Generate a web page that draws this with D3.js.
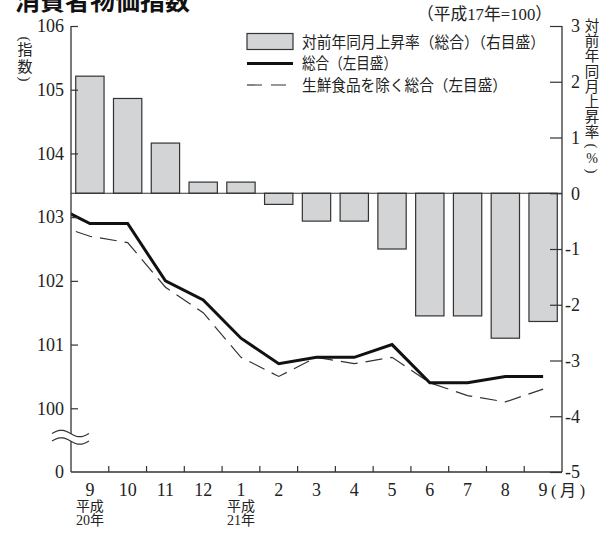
<!DOCTYPE html>
<html><head><meta charset="utf-8">
<script src="https://cdn.jsdelivr.net/npm/d3@7"></script>
<style>
html,body{margin:0;padding:0;background:#fff;}
svg{display:block;}
</style>
</head><body>
<svg id="c" width="613" height="534"></svg>
<script>
// ---- data ----
const months = ["9","10","11","12","1","2","3","4","5","6","7","8","9"];
const yearIdx = [0, 4];
const yearLine1 = ["平成", "平成"];
const yearLine2 = ["20年", "21年"];
const rateValues = [2.1, 1.7, 0.9, 0.2, 0.2, -0.2, -0.5, -0.5, -1.0, -2.2, -2.2, -2.6, -2.3];
const totalIndex = [102.9, 102.9, 102.0, 101.7, 101.1, 100.7, 100.8, 100.8, 101.0, 100.4, 100.4, 100.5, 100.5];
const coreIndex  = [102.7, 102.6, 101.9, 101.5, 100.8, 100.5, 100.8, 100.7, 100.8, 100.4, 100.2, 100.1, 100.3];
const prevTotal = 103.2;   // previous month (clipped at the axis)
const prevCore = 102.9;
const leftTicks = [100, 101, 102, 103, 104, 105, 106];
const rightTicks = [-5, -4, -3, -2, -1, 0, 1, 2, 3];
const legendLabels = ["対前年同月上昇率（総合）（右目盛）", "総合（左目盛）", "生鮮食品を除く総合（左目盛）"];
const baseLabel = "（平成17年=100）";
const title = "消費者物価指数";
const leftTitle = ["指", "数"];
const rightTitle = ["対","前","年","同","月","上","昇","率"];

// ---- layout ----
const L = 71, R = 562, T = 26, B = 472;
const SERIF = "'Liberation Serif','Noto Sans CJK JP',serif";
const CJK = "'Liberation Serif','Noto Sans CJK JP',sans-serif";
const ink = "#222";

const svg = d3.select("#c");

const x = d3.scaleBand().domain(d3.range(months.length)).range([L, R]).paddingInner(0.25).paddingOuter(0.125);
const yL = d3.scaleLinear().domain([99, 106]).range([B, T]);
const yR = d3.scaleLinear().domain([-5, 3]).range([B, T]);
const xc = i => i < 0 ? x(0) + x.bandwidth() / 2 + i * x.step() : x(i) + x.bandwidth() / 2;

// title
svg.append("text").attr("x", 15).attr("y", 10)
  .attr("font-family", "'Noto Sans CJK JP',sans-serif").attr("font-weight", 700)
  .attr("font-size", 25).attr("fill", "#111").text(title);

// bars
svg.append("g").selectAll("rect").data(rateValues).join("rect")
  .attr("x", (d, i) => x(i))
  .attr("width", x.bandwidth())
  .attr("y", d => yR(Math.max(0, d)))
  .attr("height", d => Math.abs(yR(d) - yR(0)))
  .attr("fill", "#d3d4d6").attr("stroke", "#333").attr("stroke-width", 1.2);

// zero line
svg.append("line").attr("x1", L).attr("x2", R).attr("y1", yR(0)).attr("y2", yR(0))
  .attr("stroke", "#333").attr("stroke-width", 1.2);

// clip for lines
svg.append("clipPath").attr("id", "plotclip").append("rect")
  .attr("x", L).attr("y", T).attr("width", R - L).attr("height", B - T);

const line = d3.line().x(d => xc(d.i)).y(d => yL(d.v));
const totalPts = [{i: -1, v: prevTotal}].concat(totalIndex.map((v, i) => ({i, v})));
const corePts = [{i: -1, v: prevCore}].concat(coreIndex.map((v, i) => ({i, v})));

svg.append("path").datum(corePts).attr("d", line).attr("clip-path", "url(#plotclip)")
  .attr("fill", "none").attr("stroke", "#333").attr("stroke-width", 1.2)
  .attr("stroke-dasharray", "17,8");
svg.append("path").datum(totalPts).attr("d", line).attr("clip-path", "url(#plotclip)")
  .attr("fill", "none").attr("stroke", "#111").attr("stroke-width", 3)
  .attr("stroke-linejoin", "miter");

// left axis
const gL = svg.append("g").attr("transform", `translate(${L},0)`)
  .call(d3.axisLeft(yL).tickValues(leftTicks).tickSize(-7).tickSizeOuter(0).tickPadding(7).tickFormat(d => String(d)));
gL.select(".domain").remove();
gL.append("line").attr("x1", 0).attr("x2", 0).attr("y1", T).attr("y2", B).attr("stroke", "#333").attr("stroke-width", 1.3);
gL.selectAll(".tick line").attr("stroke", "#333").attr("stroke-width", 1.2);
gL.selectAll(".tick text").attr("font-family", SERIF).attr("font-size", 18).attr("fill", ink);
// "0" at the broken base
gL.append("text").attr("x", -7).attr("y", B).attr("dy", "0.32em").attr("text-anchor", "end")
  .attr("font-family", SERIF).attr("font-size", 18).attr("fill", ink).text("0");

// right axis
const gR = svg.append("g").attr("transform", `translate(${R},0)`)
  .call(d3.axisRight(yR).tickValues(rightTicks).tickSize(-12).tickSizeOuter(0).tickPadding(18).tickFormat(d => String(d)));
gR.select(".domain").remove();
gR.append("line").attr("x1", 0).attr("x2", 0).attr("y1", T).attr("y2", B).attr("stroke", "#333").attr("stroke-width", 1.3);
gR.selectAll(".tick line").attr("stroke", "#333").attr("stroke-width", 1.2);
gR.selectAll(".tick text").attr("font-family", SERIF).attr("font-size", 18).attr("fill", ink).attr("text-anchor", "end");

// bottom axis
svg.append("line").attr("x1", L).attr("x2", R).attr("y1", B).attr("y2", B).attr("stroke", "#333").attr("stroke-width", 1.3);
svg.append("g").selectAll("line").data(d3.range(1, months.length)).join("line")
  .attr("x1", i => x(i) - x.step() * x.paddingInner() / 2)
  .attr("x2", i => x(i) - x.step() * x.paddingInner() / 2)
  .attr("y1", B).attr("y2", B - 6).attr("stroke", "#333").attr("stroke-width", 1.2);
svg.append("g").selectAll("text").data(months).join("text")
  .attr("x", (d, i) => xc(i)).attr("y", 496).attr("text-anchor", "middle")
  .attr("font-family", SERIF).attr("font-size", 18).attr("fill", ink).text(d => d);
svg.append("text").attr("x", xc(months.length - 1) + 8).attr("y", 496)
  .attr("textLength", 34).attr("lengthAdjust", "spacing")
  .attr("font-family", CJK).attr("font-size", 16).attr("fill", ink).text("(月)");
yearIdx.forEach((idx, k) => {
  svg.append("text").attr("x", xc(idx)).attr("y", 511).attr("text-anchor", "middle")
    .attr("font-family", CJK).attr("font-size", 14).attr("fill", ink).text(yearLine1[k]);
  svg.append("text").attr("x", xc(idx)).attr("y", 525).attr("text-anchor", "middle")
    .attr("font-family", CJK).attr("font-size", 14).attr("fill", ink).text(yearLine2[k]);
});

// axis break symbol
const waveY1 = 433.5, waveY2 = 441, wx0 = 52, wx1 = 89;
const wave = (y0) => d3.range(0, 41).map(k => {
  const t = k / 40; return [wx0 + t * (wx1 - wx0), y0 - 3.2 * Math.sin(2 * Math.PI * t)];
});
const w1 = wave(waveY1), w2 = wave(waveY2);
svg.append("path").attr("d", d3.line()(w1.concat(w2.slice().reverse())) + "Z")
  .attr("fill", "#fff").attr("stroke", "none");
svg.append("path").attr("d", d3.line()(w1)).attr("fill", "none").attr("stroke", "#333").attr("stroke-width", 1.2);
svg.append("path").attr("d", d3.line()(w2)).attr("fill", "none").attr("stroke", "#333").attr("stroke-width", 1.2);

// base note
svg.append("text").attr("x", 417).attr("y", 20).attr("textLength", 135).attr("lengthAdjust", "spacingAndGlyphs")
  .attr("font-family", CJK).attr("font-size", 17).attr("fill", ink).text(baseLabel);

// legend
const lg = svg.append("g");
lg.append("rect").attr("x", 247).attr("y", 33.5).attr("width", 46).attr("height", 16)
  .attr("fill", "#d3d4d6").attr("stroke", "#333").attr("stroke-width", 1.2);
lg.append("line").attr("x1", 247).attr("x2", 293).attr("y1", 63.5).attr("y2", 63.5)
  .attr("stroke", "#111").attr("stroke-width", 3);
lg.append("line").attr("x1", 247).attr("x2", 286).attr("y1", 85).attr("y2", 85)
  .attr("stroke", "#333").attr("stroke-width", 1.2).attr("stroke-dasharray", "15,9");
const legY = [42, 63.5, 85];
const legW = [243, 95, 205];
legendLabels.forEach((t, k) => {
  lg.append("text").attr("x", 302).attr("y", legY[k]).attr("dy", "0.36em")
    .attr("textLength", legW[k]).attr("lengthAdjust", "spacingAndGlyphs")
    .attr("font-family", CJK).attr("font-size", 15.5).attr("fill", ink).text(t);
});

// vertical axis titles
function vchar(xp, yp, ch, size, rot) {
  const t = svg.append("text").attr("x", xp).attr("y", yp).attr("text-anchor", "middle")
    .attr("dominant-baseline", "central").attr("font-family", CJK).attr("font-size", size)
    .attr("fill", ink).text(ch);
  if (rot) t.attr("transform", `rotate(90,${xp},${yp})`);
  return t;
}
vchar(25, 39, "(", 15, true);
leftTitle.forEach((ch, k) => vchar(25, 50 + k * 16.5, ch, 15));
vchar(25, 79, ")", 15, true);

rightTitle.forEach((ch, k) => vchar(592, 26 + k * 15.2, ch, 14.5));
vchar(592, 146, "(", 15, true);
vchar(592, 158, "%", 14);
vchar(592, 171, ")", 15, true);
</script>
</body></html>
